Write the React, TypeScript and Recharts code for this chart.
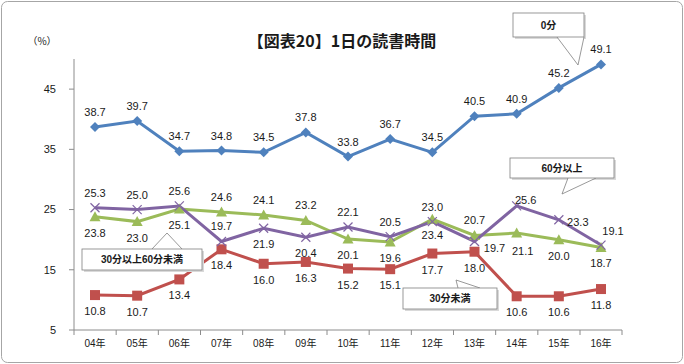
import { LineChart, Line, XAxis, YAxis } from 'recharts';

const years = ['04年', '05年', '06年', '07年', '08年', '09年', '10年', '11年', '12年', '13年', '14年', '15年', '16年'];
const zeroMin = [38.7, 39.7, 34.7, 34.8, 34.5, 37.8, 33.8, 36.7, 34.5, 40.5, 40.9, 45.2, 49.1];
const under30 = [10.8, 10.7, 13.4, 18.4, 16.0, 16.3, 15.2, 15.1, 17.7, 18.0, 10.6, 10.6, 11.8];
const from30to60 = [23.8, 23.0, 25.1, 24.6, 24.1, 23.2, 20.1, 19.6, 23.4, 20.7, 21.1, 20.0, 18.7];
const over60 = [25.3, 25.0, 25.6, 19.7, 21.9, 20.4, 22.1, 20.5, 23.0, 19.7, 25.6, 23.3, 19.1];
const yTicks = [5, 15, 25, 35, 45];

// where each value label sits relative to its point
const zeroPlace = ['t', 't', 't', 't', 't', 't', 't', 't', 't', 't', 't', 't', 't'];
const under30Place = ['b', 'b', 'b', 'b', 'b', 'b', 'b', 'b', 'b', 'b', 'b', 'b', 'b'];
const midPlace = ['b', 'b', 'b', 't', 't', 't', 'b', 'b', 'b', 't', 'br', 'b', 'b'];
const over60Place = ['t', 't', 't', 't', 'b', 'b', 't', 't', 't', 'rb', 'rt', 'r', 'tr'];

const PLACE: Record<string, { dx: number; dy: number }> = {
  t: { dx: 0, dy: -15 },
  b: { dx: 0, dy: 16 },
  br: { dx: 6, dy: 18 },
  rb: { dx: 20, dy: 7 },
  rt: { dx: 9, dy: -6 },
  r: { dx: 19, dy: 2 },
  tr: { dx: 12, dy: -14 },
};

const data = years.map((year, i) => ({
  year,
  zero: zeroMin[i],
  under30: under30[i],
  mid: from30to60[i],
  over60: over60[i],
}));

const NUM_FONT = '"Liberation Sans Narrow", "Liberation Sans", Arial, sans-serif';
const JP_FONT = '"Noto Sans CJK JP", sans-serif';
const AXIS = '#8c8c8c';
const HALF_BAND = 21;

const valueLabel = (x: number, y: number, v: number, place: string) => {
  const p = PLACE[place];
  return (
    <text x={x + p.dx} y={y + p.dy} textAnchor="middle" dominantBaseline="central"
      fontSize={11} fill="#1a1a1a" fontFamily={NUM_FONT}>
      {v.toFixed(1)}
    </text>
  );
};

const makeDot = (key: string, shape: string, color: string, places: string[]) => (props: any) => {
  const { cx, cy, index, payload } = props;
  let mark = null;
  if (shape === 'diamond') {
    mark = <polygon points={`${cx},${cy - 5} ${cx + 5},${cy} ${cx},${cy + 5} ${cx - 5},${cy}`} fill={color} />;
  } else if (shape === 'square') {
    mark = <rect x={cx - 5} y={cy - 5} width={10} height={10} fill={color} />;
  } else if (shape === 'triangle') {
    mark = <polygon points={`${cx},${cy - 5.5} ${cx + 5.5},${cy + 4.5} ${cx - 5.5},${cy + 4.5}`} fill={color} />;
  } else {
    mark = (
      <g stroke={color} strokeWidth={1.2}>
        <line x1={cx - 4.5} y1={cy - 4.5} x2={cx + 4.5} y2={cy + 4.5} />
        <line x1={cx - 4.5} y1={cy + 4.5} x2={cx + 4.5} y2={cy - 4.5} />
      </g>
    );
  }
  return (
    <g key={`${key}-${index}`}>
      {mark}
      {valueLabel(cx, cy, payload[key], places[index])}
    </g>
  );
};

const XTick = (props: any) => {
  const { x, y, payload, index } = props;
  const axisY = y - 7;
  return (
    <g>
      <line x1={x - HALF_BAND} y1={axisY} x2={x - HALF_BAND} y2={axisY + 5} stroke={AXIS} />
      {index === years.length - 1 && (
        <line x1={x + HALF_BAND} y1={axisY} x2={x + HALF_BAND} y2={axisY + 5} stroke={AXIS} />
      )}
      <text x={x} y={axisY + 13} textAnchor="middle" dominantBaseline="central"
        fontSize={10} fill="#1a1a1a" fontFamily={`${NUM_FONT}, ${JP_FONT}`}>
        {payload.value}
      </text>
    </g>
  );
};

const Callout = ({ x, y, w, h, tail, text }: { x: number; y: number; w: number; h: number; tail: number[][]; text: string }) => (
  <g>
    <rect x={x + 2} y={y + 2} width={w} height={h} fill="#d9d9d9" />
    <polyline points={tail.map((p) => p.join(',')).join(' ')} fill="#fff" stroke="#7f7f7f" strokeWidth={0.8} />
    <rect x={x} y={y} width={w} height={h} fill="#fff" stroke="#7f7f7f" strokeWidth={0.8} />
    <text x={x + w / 2} y={y + h / 2} textAnchor="middle" dominantBaseline="central"
      fontSize={10} fontWeight="bold" fill="#1a1a1a" fontFamily={`${NUM_FONT}, ${JP_FONT}`}>
      {text}
    </text>
  </g>
);

export default function App() {
  return (
    <div style={{ position: 'absolute', left: 0, top: 0, width: 684, height: 364, background: '#fff' }}>
      <LineChart width={684} height={364} data={data} margin={{ top: 59, right: 62, left: 34, bottom: 4 }}>
        <XAxis dataKey="year" interval={0} height={30} padding={{ left: HALF_BAND, right: HALF_BAND }}
          axisLine={{ stroke: AXIS }} tickLine={{ stroke: 'none' }} tickSize={5} tickMargin={2} tick={<XTick />} />
        <YAxis domain={[5, 50]} ticks={yTicks} width={40} tickSize={5} tickMargin={13}
          axisLine={{ stroke: AXIS }} tickLine={{ stroke: AXIS }}
          tick={{ fontSize: 11, fill: '#1a1a1a', fontFamily: NUM_FONT }} />
        <Line dataKey="zero" stroke="#4f81bd" strokeWidth={3} isAnimationActive={false}
          dot={makeDot('zero', 'diamond', '#4f81bd', zeroPlace)} />
        <Line dataKey="under30" stroke="#c0504d" strokeWidth={3} isAnimationActive={false}
          dot={makeDot('under30', 'square', '#c0504d', under30Place)} />
        <Line dataKey="mid" stroke="#9bbb59" strokeWidth={3} isAnimationActive={false}
          dot={makeDot('mid', 'triangle', '#9bbb59', midPlace)} />
        <Line dataKey="over60" stroke="#8064a2" strokeWidth={3} isAnimationActive={false}
          dot={makeDot('over60', 'cross', '#8064a2', over60Place)} />
      </LineChart>
      <svg width={684} height={364} style={{ position: 'absolute', left: 0, top: 0, pointerEvents: 'none' }}>
        <rect x={1.5} y={1.5} width={681} height={361} rx={6} fill="none" stroke="#a6a6a6" />
        <text x={342} y={40} textAnchor="middle" dominantBaseline="central" fontSize={16}
          fontWeight="bold" fill="#1a1a1a" fontFamily={JP_FONT}>【図表20】1日の読書時間</text>
        <text x={42} y={40} textAnchor="middle" dominantBaseline="central" fontSize={10}
          fill="#1a1a1a" fontFamily={JP_FONT}>（%）</text>
        <Callout x={513} y={13} w={71} h={24} tail={[[557, 37], [578, 65], [584, 37]]} text="0分" />
        <Callout x={510} y={158} w={104} h={20} tail={[[568, 178], [562, 194], [596, 178]]} text="60分以上" />
        <Callout x={82} y={249} w={120} h={21} tail={[[152, 249], [167, 233], [182, 249]]} text="30分以上60分未満" />
        <Callout x={403} y={288} w={94} h={21} tail={[[458, 288], [456, 280], [480, 288]]} text="30分未満" />
      </svg>
    </div>
  );
}
